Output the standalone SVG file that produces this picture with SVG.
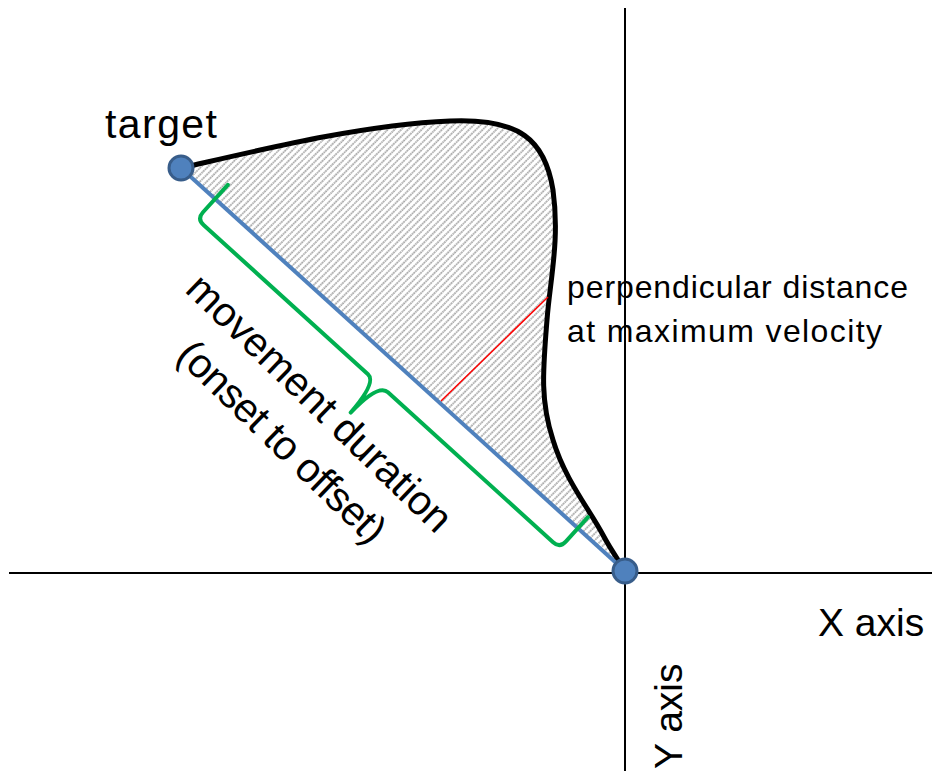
<svg xmlns="http://www.w3.org/2000/svg" width="932" height="771" viewBox="0 0 932 771">
<defs>
<pattern id="hatch" patternUnits="userSpaceOnUse" width="4.8" height="4.8" patternTransform="rotate(45)">
<line x1="1" y1="0" x2="1" y2="4.8" stroke="#8c8c8c" stroke-width="1.4" stroke-dasharray="1.6 0.8"/>
</pattern>
<style>
.lbl{font-family:"Liberation Sans",Arial,sans-serif;fill:#000}
.big{font-size:41px}
.small{font-size:32px}
.axis{stroke:#000;stroke-width:2;fill:none}
.dot{fill:#4f81bd;stroke:#385d8a;stroke-width:3}
</style>
</defs>
<rect width="932" height="771" fill="#fff"/>
<g id="area">
<path d="M181,168 C260,150 360,125 450,121 C520,118 545,140 553,190 C560,240 550,280 547,320 C543,370 540,400 553,440 C565,480 590,510 603,535 C612,552 620,562 625,571 Z" fill="url(#hatch)" stroke="none"/>
</g>
<g id="axes">
<line class="axis" x1="9" y1="573" x2="932" y2="573"/>
<line class="axis" x1="625" y1="8" x2="625" y2="771"/>
</g>
<g id="connectors">
<path id="trajectory" d="M181,168 C260,150 360,125 450,121 C520,118 545,140 553,190 C560,240 550,280 547,320 C543,370 540,400 553,440 C565,480 590,510 603,535 C612,552 620,562 625,571" fill="none" stroke="#000" stroke-width="5" stroke-linejoin="round"/>
<line id="straight" x1="181" y1="168" x2="625" y2="571" stroke="#4f81bd" stroke-width="4"/>
<line id="perp" x1="548" y1="297" x2="441" y2="401" stroke="#ff0000" stroke-width="1.5"/>
<path id="bracket" transform="translate(181,168) rotate(42.23)" d="M46,-19 L46,18 Q46,27 55,27 L277,27 Q289,27 290,67 Q291,27 304,27 L527,27 Q536,27 536,18 L536,-15" fill="none" stroke="#00b050" stroke-width="4" stroke-linejoin="round" stroke-linecap="round"/>
</g>
<g id="target">
<circle class="dot" cx="181" cy="168" r="12"/>
<text class="lbl big" x="105" y="138" textLength="112">target</text>
</g>
<g id="origin">
<circle class="dot" cx="625" cy="571" r="12"/>
</g>
<g id="label-perp">
<text class="lbl small" x="567" y="298" textLength="341">perpendicular distance</text>
<text class="lbl small" x="567" y="342" textLength="315">at maximum velocity</text>
</g>
<g id="label-duration" transform="translate(310,413) rotate(44)">
<text class="lbl" style="font-size:41px" x="0" y="0" text-anchor="middle">movement duration</text>
<text class="lbl" style="font-size:41px" x="0" y="54" text-anchor="middle" textLength="272">(onset to offset)</text>
</g>
<g id="label-x">
<text class="lbl" style="font-size:39px" x="818" y="636">X axis</text>
</g>
<g id="label-y">
<text class="lbl" style="font-size:39px" transform="translate(682,769) rotate(-90)" x="0" y="0">Y axis</text>
</g>
</svg>
